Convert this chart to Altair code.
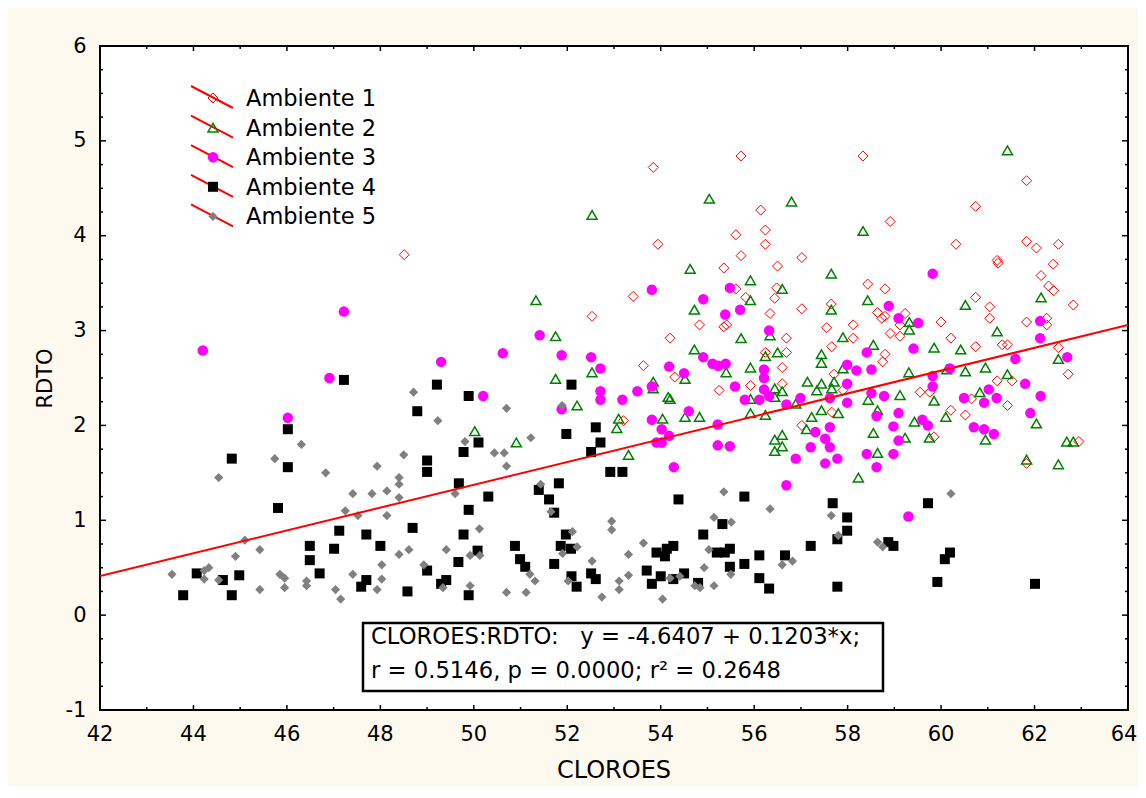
import altair as alt
import pandas as pd

# ---------------- data ----------------
amb1_x = [48.51,
          55.72, 53.84, 56.14, 55.61, 56.24, 56.24, 53.94, 55.72, 56.50, 55.35, 56.48, 55.61, 55.82, 56.44, 53.41,
          56.34, 52.53, 54.83, 55.35, 55.41, 54.20, 56.69,
          58.33, 61.83, 60.74, 58.91, 60.32, 61.83, 62.04, 62.51, 57.02, 61.20, 61.22, 62.40, 62.14, 58.43, 58.80,
          62.30, 62.41, 60.74, 61.04, 62.83, 57.65, 57.02, 58.64, 58.80, 58.73, 59.23, 61.04, 59.12, 60.00, 57.55,
          58.12, 61.83, 62.26, 62.26, 58.12, 58.91, 59.12, 60.21,
          53.63, 54.30, 55.25, 55.92, 56.24, 56.69, 56.60, 56.60, 53.20,
          62.51, 62.72, 61.52, 61.20, 61.42, 62.95, 61.83, 60.65, 60.74, 61.31, 61.42, 59.55, 59.76, 60.21, 60.52,
          59.85, 58.80, 58.75, 57.71, 57.90, 57.66, 57.66, 57.02]
amb1_y = [3.80,
          4.84, 4.72, 4.27, 4.01, 4.06, 3.91, 3.91, 3.79, 3.68, 3.66, 3.45, 3.44, 3.35, 3.34, 3.36,
          3.18, 3.15, 3.06, 3.04, 3.06, 2.92, 2.92,
          4.84, 4.58, 4.31, 4.15, 3.91, 3.94, 3.87, 3.91, 3.77, 3.74, 3.71, 3.70, 3.58, 3.49, 3.44,
          3.47, 3.42, 3.35, 3.25, 3.27, 3.28, 3.23, 3.19, 3.15, 3.13, 3.18, 3.13, 3.06, 3.09, 3.03,
          3.06, 3.09, 3.13, 3.06, 2.92, 2.97, 2.94, 2.92,
          2.63, 2.51, 2.37, 2.42, 2.77, 2.77, 2.61, 2.44, 2.05,
          2.82, 2.54, 2.47, 2.47, 2.21, 1.83, 1.60, 2.28, 2.83, 2.85, 2.85, 2.35, 2.35, 2.16, 2.11,
          1.88, 2.75, 2.67, 2.54, 2.37, 2.83, 2.14, 2.00]

amb2_x = [55.04, 56.80, 52.53, 54.63, 55.92, 56.60, 55.92, 51.33, 54.72, 51.75, 55.72, 56.34,
          61.42, 58.33, 57.65, 58.43, 57.65, 60.52, 62.14, 59.32, 59.32, 61.20, 57.90,
          52.53, 51.75, 52.21, 53.84, 53.84, 54.52, 54.72, 55.40, 54.16, 54.20, 54.52, 54.83, 55.92, 56.24,
          56.50, 55.92, 56.44, 56.44, 56.60, 55.92, 56.24, 53.10, 53.06, 54.04, 56.44, 56.60, 56.44, 56.60,
          53.31, 50.02, 50.91,
          62.51, 61.42, 62.04, 62.69, 62.83, 62.51, 61.83, 60.83, 60.95, 60.42, 60.52, 60.12, 59.85, 59.85,
          60.10, 60.95, 59.43, 59.75, 59.31, 59.12, 59.23, 58.64, 58.55, 58.64, 58.44, 58.55, 57.90, 57.71,
          57.66, 57.44, 57.44, 57.44, 57.34, 57.14, 56.89, 57.23, 57.44, 57.80, 57.12, 58.23]
amb2_y = [4.39, 4.36, 4.22, 3.65, 3.53, 3.44, 3.32, 3.32, 3.22, 2.94, 2.92, 2.95,
          4.90, 4.05, 3.60, 3.32, 3.22, 3.27, 3.35, 3.09, 3.01, 2.99, 2.93,
          2.56, 2.49, 2.21, 2.46, 2.39, 2.49, 2.80, 2.56, 2.30, 2.28, 2.09, 2.09, 2.61, 2.73,
          2.77, 2.28, 2.39, 2.30, 2.36, 2.13, 2.11, 2.07, 1.97, 2.07, 1.85, 1.90, 1.73, 1.78,
          1.69, 1.94, 1.82,
          2.70, 2.54, 2.02, 1.83, 1.83, 1.59, 1.64, 2.35, 2.61, 2.80, 2.57, 2.59, 2.82, 2.26,
          2.09, 1.85, 2.04, 1.87, 2.56, 2.32, 1.87, 1.71, 1.92, 2.16, 2.27, 2.85, 2.60, 2.46,
          2.39, 2.75, 2.66, 2.44, 2.37, 2.46, 2.23, 2.09, 2.16, 2.13, 1.96, 1.45]

amb3_x = [47.22, 44.20, 49.30, 46.91, 46.02,
          53.81, 55.48, 54.91, 55.70, 55.38, 56.32, 51.41,
          59.82, 58.88, 59.09, 59.51, 62.12, 62.12,
          50.62, 51.88, 52.51, 52.71, 50.20, 51.88, 52.71, 52.71, 53.18, 53.50, 53.81, 54.18, 54.50, 54.91,
          55.11, 55.23, 55.39, 54.60, 55.59, 56.21, 56.21, 56.21, 55.80, 56.11, 56.32, 56.69, 53.81, 54.02,
          54.18, 53.91, 54.02, 55.22, 55.22, 55.48, 54.28, 56.69,
          62.70, 61.59, 61.80, 62.13, 61.91, 61.02, 61.19, 60.92, 60.49, 60.19, 59.41, 59.82, 59.82, 60.70,
          60.92, 61.13, 59.60, 59.72, 59.09, 58.98, 59.09, 58.98, 59.30, 58.62, 58.41, 58.62, 58.78, 58.51,
          58.51, 58.41, 58.19, 57.99, 57.99, 57.99, 57.62, 56.99, 57.31, 57.62, 57.52, 57.62, 57.21, 56.89,
          57.52, 57.78]
amb3_y = [3.20, 2.79, 2.67, 2.50, 2.08,
          3.43, 3.45, 3.33, 3.22, 3.17, 3.00, 2.95,
          3.60, 3.26, 3.13, 3.08, 3.10, 2.92,
          2.76, 2.74, 2.72, 2.60, 2.31, 2.17, 2.36, 2.27, 2.27, 2.36, 2.41, 2.62, 2.55, 2.72,
          2.65, 2.63, 2.65, 2.15, 2.41, 2.59, 2.50, 2.38, 2.27, 2.27, 2.31, 2.22, 2.06, 1.96,
          1.89, 1.82, 1.82, 2.01, 1.79, 1.78, 1.56, 1.37,
          2.72, 2.70, 2.44, 2.31, 2.13, 2.38, 2.29, 2.24, 2.29, 2.60, 2.81, 2.52, 2.41, 1.98,
          1.96, 1.91, 2.06, 2.00, 2.13, 1.99, 1.84, 1.70, 1.04, 1.56, 1.70, 2.10, 2.31, 2.34,
          2.59, 2.77, 2.58, 2.64, 2.44, 2.24, 2.29, 2.29, 1.93, 1.98, 1.86, 1.77, 1.77, 1.65,
          1.60, 1.65]

amb4_x = [47.22, 49.21, 48.79, 46.02, 44.82, 46.02, 49.00, 49.00, 45.81, 47.12, 47.70, 48.69, 46.49, 47.01,
          48.00, 46.49, 44.07, 44.63, 44.98, 43.78, 44.82, 46.70, 47.70, 47.59, 48.58, 49.00, 49.41, 49.30,
          52.09, 49.89, 51.98, 52.61, 52.71, 52.51, 50.10, 49.78, 52.92, 53.18, 49.68, 50.31, 49.89, 51.82,
          51.39, 51.61, 51.72, 54.38, 55.79, 55.32, 54.91, 49.78, 51.97, 50.88, 51.86, 52.08, 50.08, 53.91,
          54.13, 54.27, 54.09, 55.20, 55.37, 55.48, 56.11, 56.66, 49.67, 50.99, 51.10, 51.72, 55.48, 55.79,
          53.70, 54.50, 52.51, 52.61, 54.00, 54.27, 53.81, 56.11, 56.32, 54.80, 52.09, 52.20, 49.89,
          57.68, 57.99, 57.99, 57.78, 57.21, 57.78, 58.87, 58.98, 59.72, 60.19, 60.08, 59.92, 62.01]
amb4_y = [2.48, 2.43, 2.15, 1.96, 1.65, 1.56, 1.63, 1.51, 1.13, 0.89, 0.85, 0.92, 0.73, 0.70,
          0.73, 0.58, 0.44, 0.37, 0.42, 0.21, 0.21, 0.44, 0.37, 0.30, 0.25, 0.47, 0.37, 0.33,
          2.43, 2.31, 1.91, 1.98, 1.82, 1.72, 1.82, 1.72, 1.51, 1.51, 1.39, 1.25, 1.11, 1.39,
          1.32, 1.22, 1.08, 1.22, 1.25, 0.96, 0.85, 0.85, 0.85, 0.73, 0.73, 0.70, 0.68, 0.66,
          0.70, 0.73, 0.62, 0.66, 0.66, 0.70, 0.63, 0.63, 0.56, 0.59, 0.51, 0.54, 0.51, 0.54,
          0.47, 0.44, 0.44, 0.38, 0.41, 0.38, 0.33, 0.39, 0.28, 0.34, 0.41, 0.30, 0.21,
          1.18, 1.03, 0.89, 0.80, 0.73, 0.30, 0.77, 0.73, 1.18, 0.66, 0.59, 0.35, 0.33]

amb5_x = [48.71, 49.23, 46.31, 45.74, 44.54, 46.83, 48.50, 47.93, 48.40, 48.40, 47.41, 47.82, 48.14, 48.40,
          47.25, 47.52, 48.14, 45.10, 45.42, 44.90, 48.40, 48.61, 49.41, 43.54, 44.23, 44.33, 44.23, 44.54,
          45.42, 45.85, 45.95, 45.95, 46.42, 46.42, 47.41, 47.04, 47.15, 48.03, 48.03, 47.93, 48.93, 49.34,
          50.70, 51.89, 49.81, 51.22, 50.44, 50.65, 50.70, 49.60, 51.43, 51.65, 55.35, 56.34, 55.14, 55.51,
          52.95, 52.95, 50.12, 52.11, 53.63, 52.21, 49.92, 50.13, 51.90, 53.31, 55.03, 52.53, 54.93, 56.60,
          54.20, 54.41, 55.50, 55.14, 54.73, 54.84, 53.31, 53.11, 53.11, 54.04, 52.74, 52.02, 51.31, 51.20,
          51.12, 50.70, 49.92,
          57.65, 57.80, 56.82, 58.64, 58.75, 60.21]
amb5_y = [2.35, 2.05, 1.80, 1.65, 1.45, 1.50, 1.69, 1.57, 1.45, 1.38, 1.28, 1.28, 1.31, 1.24,
          1.10, 1.05, 1.05, 0.79, 0.69, 0.62, 0.64, 0.69, 0.69, 0.43, 0.47, 0.50, 0.38, 0.37,
          0.27, 0.43, 0.39, 0.29, 0.36, 0.31, 0.43, 0.27, 0.17, 0.53, 0.38, 0.27, 0.53, 0.29,
          2.18, 2.21, 1.83, 1.87, 1.71, 1.71, 1.57, 1.28, 1.38, 1.09, 1.30, 1.12, 1.03, 0.98,
          0.99, 0.90, 0.91, 0.88, 0.76, 0.72, 0.63, 0.63, 0.65, 0.64, 0.69, 0.57, 0.50, 0.53,
          0.39, 0.41, 0.43, 0.31, 0.31, 0.29, 0.42, 0.36, 0.27, 0.17, 0.19, 0.36, 0.36, 0.43,
          0.24, 0.24, 0.31,
          1.05, 0.84, 0.57, 0.77, 0.72, 1.28]

series_labels = ["Ambiente 1", "Ambiente 2", "Ambiente 3", "Ambiente 4", "Ambiente 5"]

fit_intercept = -4.6407
fit_slope = 0.1203
fit_text_1 = "CLOROES:RDTO:\u00a0\u00a0\u00a0y = -4.6407 + 0.1203*x;"
fit_text_2 = "r = 0.5146, p = 0.0000; r\u00b2 = 0.2648"

x_title = "CLOROES"
y_title = "RDTO"
x_domain = [42, 64]
y_domain = [-1, 6]
x_labels = [42, 44, 46, 48, 50, 52, 54, 56, 58, 60, 62, 64]
x_minor = [43, 45, 47, 49, 51, 53, 55, 57, 59, 61, 63]
y_labels = [-1, 0, 1, 2, 3, 4, 5, 6]
y_minor = [v + q for v in range(-1, 6) for q in (0.25, 0.5, 0.75)]

# ---------------- styling ----------------
W, H = 1028, 664
FONT = "DejaVu Sans"
styles = [
    dict(shape="diamond", filled=False, color="#FF0000", size=100, strokeWidth=1),
    dict(shape="triangle-up", filled=False, color="#008000", size=100, strokeWidth=1.5),
    dict(shape="circle", filled=True, color="#FF00FF", size=110, strokeWidth=0),
    dict(shape="square", filled=True, color="#000000", size=100, strokeWidth=0),
    dict(shape="diamond", filled=True, color="#808080", size=85, strokeWidth=0),
]

xsc = alt.Scale(domain=x_domain, nice=False, zero=False)
ysc = alt.Scale(domain=y_domain, nice=False, zero=False)

y_axis = alt.Axis(values=y_labels, ticks=False, domain=False, grid=False, labelFont=FONT,
                  labelFontSize=21, labelColor="black", labelPadding=14, labelFlush=False,
                  labelExpr="'' + datum.value",
                  title=y_title, titleFont=FONT, titleFontSize=21, titleFontWeight="normal",
                  titleColor="black", titlePadding=10)


def X(field):
    return alt.X(field, scale=xsc, axis=None)


def Y(field):
    return alt.Y(field, scale=ysc, axis=y_axis)


one = pd.DataFrame({"a": [0]})
layers = []

series_data = [(amb1_x, amb1_y), (amb2_x, amb2_y), (amb3_x, amb3_y), (amb4_x, amb4_y), (amb5_x, amb5_y)]
for (xs, ys), st in zip(series_data, styles):
    df = pd.DataFrame({"x": xs, "y": ys})
    layers.append(alt.Chart(df).mark_point(opacity=1, **st).encode(x=X("x:Q"), y=Y("y:Q")))

# regression line
fit_df = pd.DataFrame({"x": x_domain})
fit_df["y"] = fit_intercept + fit_slope * fit_df["x"]
layers.append(alt.Chart(fit_df).mark_line(color="#FF0000", strokeWidth=2, clip=True).encode(
    x=X("x:Q"), y=Y("y:Q")))


# inward ticks on all four sides
def yticks(vals, length):
    d = pd.DataFrame({"v": vals})
    left = alt.Chart(d).mark_rule(color="black", strokeWidth=1.5).encode(
        y=Y("v:Q"), x=alt.value(0), x2=alt.value(length))
    right = alt.Chart(d).mark_rule(color="black", strokeWidth=1.5).encode(
        y=Y("v:Q"), x=alt.value(W - length), x2=alt.value(W))
    return [left, right]


def xticks(vals, length):
    d = pd.DataFrame({"v": vals})
    bottom = alt.Chart(d).mark_rule(color="black", strokeWidth=1.5).encode(
        x=X("v:Q"), y=alt.value(H - length), y2=alt.value(H))
    top = alt.Chart(d).mark_rule(color="black", strokeWidth=1.5).encode(
        x=X("v:Q"), y=alt.value(0), y2=alt.value(length))
    return [bottom, top]


layers += yticks(y_labels, 6) + yticks(y_minor, 3) + xticks(x_labels, 5) + xticks(x_minor, 3)

# x tick labels (the last one nudged so it stays inside the picture) and x title
lab_df = pd.DataFrame({"v": x_labels[:-1]})
last_df = pd.DataFrame({"v": x_labels[-1:]})
for d, shift in ((lab_df, 0), (last_df, -4)):
    layers.append(alt.Chart(d).mark_text(font=FONT, fontSize=21, baseline="top", align="center",
                                         color="black", dx=shift).encode(
        x=X("v:Q"), y=alt.value(H + 14), text=alt.Text("v:Q")))
layers.append(alt.Chart(one).mark_text(font=FONT, fontSize=24, baseline="alphabetic", align="center",
                                       color="black").encode(
    x=alt.value(W / 2), y=alt.value(H + 68), text=alt.value(x_title)))

# legend (drawn by hand: red slash through each symbol)
lx, ly0, lstep = 113, 52, 29.6
for i, (lab, st) in enumerate(zip(series_labels, styles)):
    yc = ly0 + i * lstep
    layers.append(alt.Chart(one).mark_rule(color="#FF0000", strokeWidth=2).encode(
        x=alt.value(lx - 22), x2=alt.value(lx + 20), y=alt.value(yc - 12), y2=alt.value(yc + 10)))
    layers.append(alt.Chart(one).mark_point(opacity=1, **st).encode(
        x=alt.value(lx), y=alt.value(yc)))
    layers.append(alt.Chart(one).mark_text(align="left", baseline="middle", font=FONT, fontSize=22.5,
                                           color="black").encode(
        x=alt.value(lx + 33), y=alt.value(yc + 1), text=alt.value(lab)))

# regression text box
layers.append(alt.Chart(one).mark_rect(fill="white", stroke="black", strokeWidth=2.5).encode(
    x=alt.value(263), x2=alt.value(783), y=alt.value(577), y2=alt.value(645)))
layers.append(alt.Chart(one).mark_text(align="left", baseline="alphabetic", font=FONT, fontSize=22.7,
                                       color="black").encode(
    x=alt.value(271), y=alt.value(598), text=alt.value(fit_text_1)))
layers.append(alt.Chart(one).mark_text(align="left", baseline="alphabetic", font=FONT, fontSize=22.7,
                                       color="black").encode(
    x=alt.value(271), y=alt.value(632), text=alt.value(fit_text_2)))

chart = alt.layer(*layers).properties(
    width=W, height=H,
    autosize=alt.AutoSizeParams(type="none"),
    padding={"left": 92, "top": 38, "right": 10, "bottom": 76},
    background="#FEF9EE",
).configure_view(stroke="black", strokeWidth=2, fill="white")

chart.save("out.html", embed_options={"renderer": "svg", "actions": False})
